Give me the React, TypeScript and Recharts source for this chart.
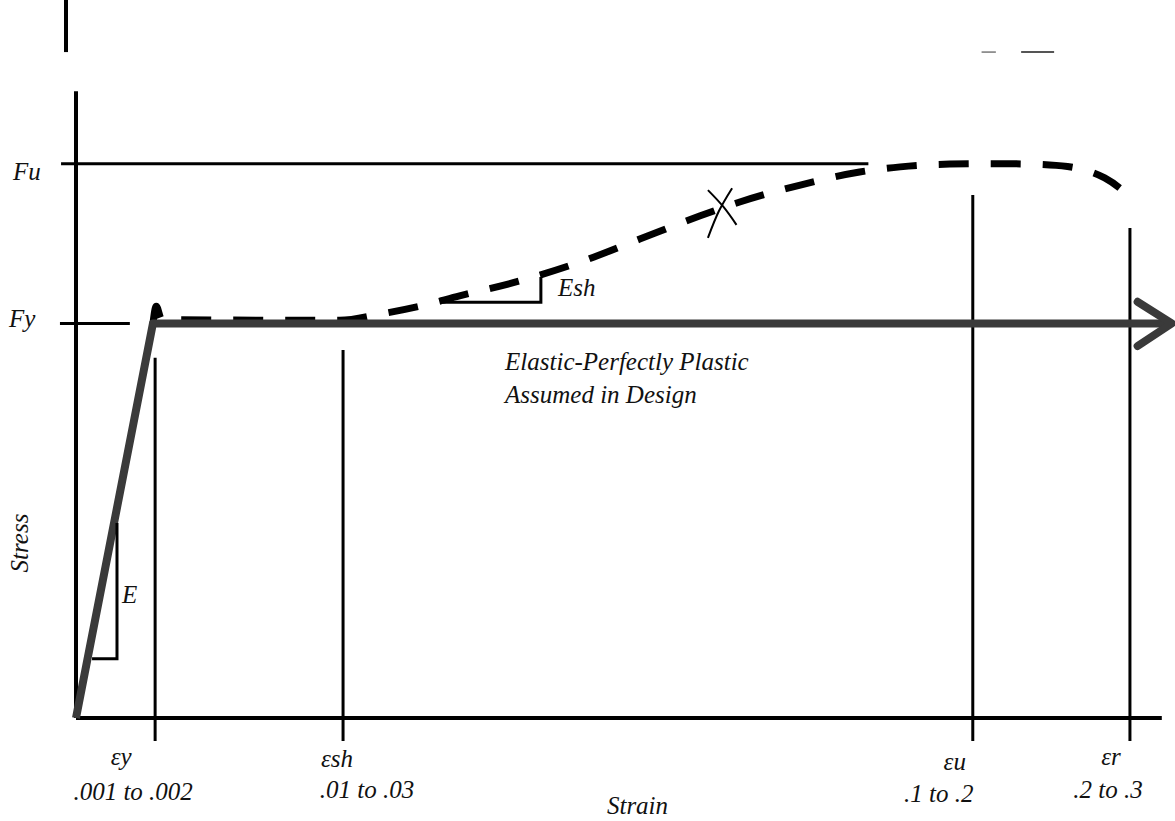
import React from "react";
import {
  ComposedChart,
  Line,
  XAxis,
  YAxis,
  ReferenceLine,
  ReferenceDot,
} from "recharts";

// Schematic diagram: x is position along the (not to scale) strain axis, 0..100,
// y is stress normalised so that Fy = 1.
const FY = 1;
const FU = 1.405;

const strainTicks = [7.2, 24.3, 81.6, 95.9];
const strainSymbols = ["εy", "εsh", "εu", "εr"];
const strainRanges = [".001 to .002", ".01 to .03", ".1 to .2", ".2 to .3"];
const markerTops = [0.913, 0.933, 1.326, 1.242];
const markerBottom = -0.058;

const stressTicks = [FY, FU];
const stressLabels = ["Fy", "Fu"];

// elastic-perfectly plastic idealisation
const epX = [0, 7.0, 99.2];
const epY = [0, FY, FY];
const arrowX = [96.6, 99.7, 96.6];
const arrowY = [1.055, FY, 0.943];

// actual stress-strain curve (yield, plateau, strain hardening, necking)
const actualX = [7.0, 7.3, 7.8, 24.0, 27.7, 31.3, 34.9, 40.4, 45.9, 51.3, 56.8, 60.4, 65.9, 71.3, 75.0, 79.5, 84.1, 88.6, 91.8, 93.6, 95.0, 95.9];
const actualY = [1.0, 1.044, 1.01, 1.008, 1.024, 1.044, 1.07, 1.108, 1.156, 1.214, 1.273, 1.308, 1.351, 1.384, 1.397, 1.404, 1.405, 1.402, 1.389, 1.369, 1.343, 1.321];

// slope triangles
const eSlopeX = [1.46, 3.73, 3.73];
const eSlopeY = [0.15, 0.15, 0.494];
const eshSlopeX = [33.4, 42.3, 42.3];
const eshSlopeY = [1.054, 1.054, 1.118];

// hand drawn "x" on the hardening branch
const crossAX = [57.5, 58.9, 60.1];
const crossAY = [1.338, 1.296, 1.25];
const crossBX = [59.7, 58.5, 57.5];
const crossBY = [1.343, 1.285, 1.217];

const zip = (xs: number[], ys: number[]) => xs.map((x, i) => ({ x, y: ys[i] }));

const FONT = "'Liberation Serif', 'Times New Roman', serif";

// label nudges (pixels) for each strain tick: symbol dx/dy, range dx/dy
const tickNudge = [
  { sdx: -34, sdy: 47, rdx: -22, rdy: 82 },
  { sdx: -6, sdy: 49, rdx: 24, rdy: 80 },
  { sdx: -18, sdy: 52, rdx: -34, rdy: 84 },
  { sdx: -19, sdy: 47, rdx: -22, rdy: 80 },
];
const yNudge = [
  { dx: -67, dy: 4 },
  { dx: -63, dy: 16 },
];

const StrainTick = ({ x, y, payload }: any) => {
  const i = strainTicks.indexOf(payload.value);
  if (i < 0) return null;
  const n = tickNudge[i];
  return (
    <g fontFamily={FONT} fontStyle="italic" fontSize={25} fill="#111">
      <text x={x + n.sdx} y={y + n.sdy} textAnchor="middle">
        {strainSymbols[i]}
      </text>
      <text x={x + n.rdx} y={y + n.rdy} textAnchor="middle">
        {strainRanges[i]}
      </text>
    </g>
  );
};

const StressTick = ({ x, y, payload }: any) => {
  const i = stressTicks.indexOf(payload.value);
  if (i < 0) return null;
  return (
    <text
      x={x + yNudge[i].dx}
      y={y + yNudge[i].dy}
      fontFamily={FONT}
      fontStyle="italic"
      fontSize={25}
      fill="#111"
    >
      {stressLabels[i]}
    </text>
  );
};

const textDot = (content: string, size = 25) => (props: any) => (
  <text
    x={props.cx}
    y={props.cy}
    fontFamily={FONT}
    fontStyle="italic"
    fontSize={size}
    fill="#111"
  >
    {content}
  </text>
);

const seg = (x1: number, y1: number, x2: number, y2: number) => [
  { x: x1, y: y1 },
  { x: x2, y: y2 },
];

const App: React.FC = () => {
  return (
    <div style={{ position: "absolute", left: 0, top: 0, background: "#fff" }}>
      <ComposedChart
        width={1175}
        height={821}
        margin={{ top: 0, right: 0, bottom: 0, left: 0 }}
      >
        <XAxis
          type="number"
          dataKey="x"
          domain={[0, 100]}
          ticks={strainTicks}
          height={103}
          axisLine={false}
          tickLine={false}
          tickSize={0}
          tickMargin={0}
          tick={<StrainTick />}
          interval={0}
          label={{
            content: ({ viewBox }: any) => (
              <text
                x={viewBox.x + viewBox.width / 2 + 12}
                y={viewBox.y + 96}
                textAnchor="middle"
                fontFamily={FONT}
                fontStyle="italic"
                fontSize={25}
                fill="#111"
              >
                Strain
              </text>
            ),
          }}
        />
        <YAxis
          type="number"
          dataKey="y"
          domain={[0, 1.82]}
          ticks={stressTicks}
          width={76}
          axisLine={false}
          tickLine={false}
          tickSize={0}
          tickMargin={0}
          tick={<StressTick />}
          interval={0}
          label={{
            content: ({ viewBox }: any) => (
              <text
                x={viewBox.x + 28}
                y={viewBox.y + 543}
                transform={`rotate(-90, ${viewBox.x + 28}, ${viewBox.y + 543})`}
                textAnchor="middle"
                fontFamily={FONT}
                fontStyle="italic"
                fontSize={25}
                fill="#111"
              >
                Stress
              </text>
            ),
          }}
        />

        {/* frame: axes, Fu / Fy lines, stray marks */}
        <ReferenceLine segment={seg(0, 0, 0, 1.589)} stroke="#000" strokeWidth={4} ifOverflow="visible" />
        <ReferenceLine segment={seg(0, 0, 98.8, 0)} stroke="#000" strokeWidth={4} ifOverflow="visible" />
        <ReferenceLine segment={seg(-1.36, FU, 72.1, FU)} stroke="#000" strokeWidth={3} ifOverflow="visible" />
        <ReferenceLine segment={seg(-1.46, FY, 4.9, FY)} stroke="#000" strokeWidth={3} ifOverflow="visible" />
        <ReferenceLine segment={seg(-0.91, 1.688, -0.91, 1.82)} stroke="#000" strokeWidth={4} ifOverflow="visible" />
        <ReferenceLine segment={seg(82.4, 1.688, 83.7, 1.688)} stroke="#777" strokeWidth={1.5} ifOverflow="visible" />
        <ReferenceLine segment={seg(86.0, 1.688, 89.0, 1.688)} stroke="#555" strokeWidth={2} ifOverflow="visible" />

        {/* strain markers */}
        {strainTicks.map((t, i) => (
          <ReferenceLine
            key={`m-${i}`}
            segment={seg(t, markerBottom, t, markerTops[i])}
            stroke="#000"
            strokeWidth={3}
            ifOverflow="visible"
          />
        ))}

        <Line
          data={zip(actualX, actualY)}
          dataKey="y"
          type="monotone"
          stroke="#000"
          strokeWidth={7}
          strokeDasharray="30 22"
          dot={false}
          isAnimationActive={false}
        />
        <Line
          data={zip(epX, epY)}
          dataKey="y"
          type="linear"
          stroke="#3a3a3a"
          strokeWidth={8}
          strokeLinejoin="round"
          dot={false}
          isAnimationActive={false}
        />
        <Line
          data={zip(arrowX, arrowY)}
          dataKey="y"
          type="linear"
          stroke="#3a3a3a"
          strokeWidth={8}
          strokeLinecap="round"
          strokeLinejoin="round"
          dot={false}
          isAnimationActive={false}
        />
        <Line
          data={zip(eSlopeX, eSlopeY)}
          dataKey="y"
          type="linear"
          stroke="#000"
          strokeWidth={3}
          dot={false}
          isAnimationActive={false}
        />
        <Line
          data={zip(eshSlopeX, eshSlopeY)}
          dataKey="y"
          type="linear"
          stroke="#000"
          strokeWidth={3}
          dot={false}
          isAnimationActive={false}
        />
        <Line
          data={zip(crossAX, crossAY)}
          dataKey="y"
          type="natural"
          stroke="#000"
          strokeWidth={2}
          dot={false}
          isAnimationActive={false}
        />
        <Line
          data={zip(crossBX, crossBY)}
          dataKey="y"
          type="natural"
          stroke="#000"
          strokeWidth={2}
          dot={false}
          isAnimationActive={false}
        />

        <ReferenceDot x={39.04} y={0.882} ifOverflow="visible" shape={textDot("Elastic-Perfectly Plastic")} />
        <ReferenceDot x={39.04} y={0.798} ifOverflow="visible" shape={textDot("Assumed in Design")} />
        <ReferenceDot x={43.86} y={1.07} ifOverflow="visible" shape={textDot("Esh")} />
        <ReferenceDot x={4.19} y={0.292} ifOverflow="visible" shape={textDot("E")} />
      </ComposedChart>
    </div>
  );
};

export default App;
